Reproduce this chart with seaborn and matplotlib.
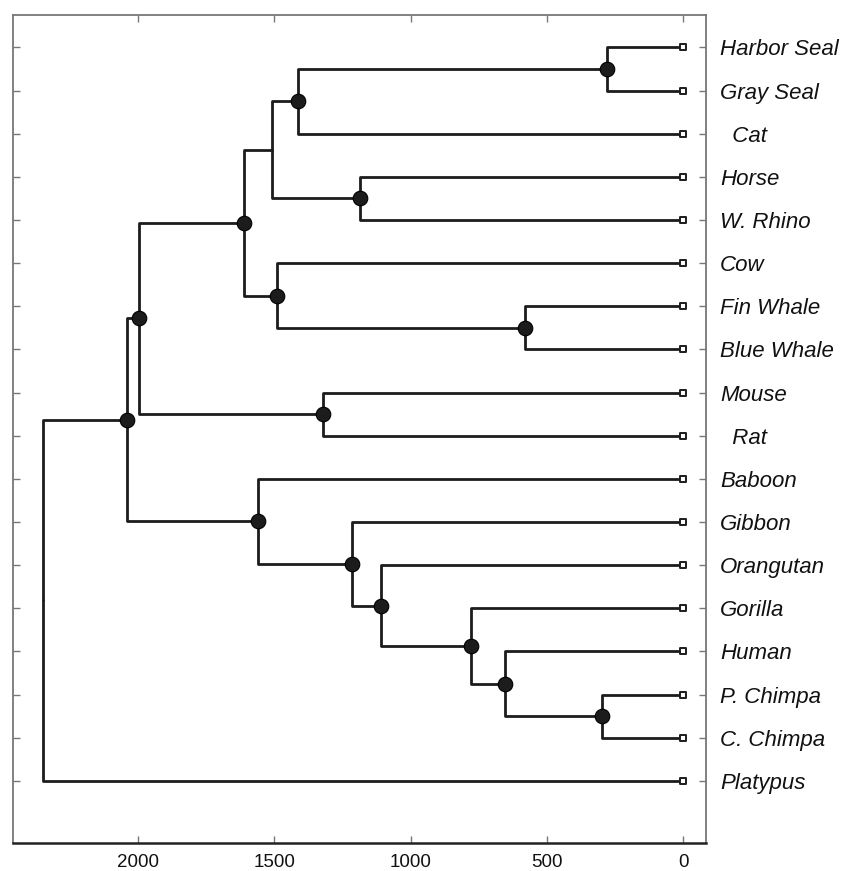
import matplotlib
matplotlib.use("Agg")
import matplotlib.pyplot as plt
import pandas as pd
import seaborn as sns

# Leaves, top to bottom
leaf_names = [
    "Harbor Seal", "Gray Seal", "  Cat", "Horse", "W. Rhino", "Cow",
    "Fin Whale", "Blue Whale", "Mouse", "  Rat", "Baboon", "Gibbon",
    "Orangutan", "Gorilla", "Human", "P. Chimpa", "C. Chimpa", "Platypus",
]

# Internal nodes in merge order: children and divergence height
node_names = [
    "seals", "carnivora", "perissodactyla", "fereungulata", "whales",
    "cetartiodactyla", "laurasiatheria", "glires", "boreoeutheria",
    "chimps", "homininae_a", "homininae", "hominidae", "hominoidea",
    "catarrhini", "eutheria", "mammalia",
]
left_child = [
    "Harbor Seal", "seals", "Horse", "carnivora", "Fin Whale",
    "Cow", "fereungulata", "Mouse", "laurasiatheria",
    "P. Chimpa", "Human", "Gorilla", "Orangutan", "Gibbon",
    "Baboon", "boreoeutheria", "eutheria",
]
right_child = [
    "Gray Seal", "  Cat", "W. Rhino", "perissodactyla", "Blue Whale",
    "whales", "cetartiodactyla", "  Rat", "glires",
    "C. Chimpa", "chimps", "homininae_a", "homininae", "hominidae",
    "hominoidea", "catarrhini", "Platypus",
]
node_heights = [
    279, 1413, 1185, 1508, 580,
    1490, 1611, 1321, 1996,
    297, 653, 778, 1108, 1215,
    1560, 2040, 2349,
]
node_marked = [
    True, True, True, False, True,
    True, True, True, True,
    True, True, True, True, True,
    True, True, False,
]
axis_ticks = [2000, 1500, 1000, 500, 0]

sns.set_style("ticks")
plt.rcParams["font.family"] = ["Liberation Sans", "DejaVu Sans"]

# Lay out the tree: leaves on integer rows, parents midway between children
pos = {name: (0.0, float(i + 1)) for i, name in enumerate(leaf_names)}
seg_rows = []
node_rows = []
for name, a, b, h, mark in zip(node_names, left_child, right_child,
                               node_heights, node_marked):
    y_node = (pos[a][1] + pos[b][1]) / 2.0
    for child in (a, b):
        cx, cy = pos[child]
        seg = f"{name}/{child}"
        seg_rows.append(dict(seg=seg, x=cx, y=cy))
        seg_rows.append(dict(seg=seg, x=h, y=cy))
        seg_rows.append(dict(seg=seg, x=h, y=y_node))
    pos[name] = (float(h), y_node)
    node_rows.append(dict(x=float(h), y=y_node, marked=mark))

segs = pd.DataFrame(seg_rows)
nodes = pd.DataFrame(node_rows)
leaves = pd.DataFrame(dict(x=[pos[n][0] for n in leaf_names],
                           y=[pos[n][1] for n in leaf_names]))

fig = plt.figure(figsize=(8.43, 8.71), dpi=100)
ax = fig.add_axes([13 / 843, 28 / 871, 693 / 843, 828 / 871])

ink = "#1c1c1c"
sns.lineplot(data=segs, x="x", y="y", units="seg", estimator=None, sort=False,
             color=ink, linewidth=2.0, ax=ax, legend=False, zorder=2)
sns.scatterplot(data=nodes[nodes["marked"]], x="x", y="y", marker="o", s=110,
                color=ink, edgecolor="#000000", linewidth=0.8, ax=ax,
                legend=False, zorder=3)
sns.scatterplot(data=leaves, x="x", y="y", marker="s", s=24, color="white",
                edgecolor=ink, linewidth=1.4, ax=ax, legend=False, zorder=4)

ax.set_xlim(2459, -84)
ax.set_ylim(19.44, 0.247)
ax.set_xlabel("")
ax.set_ylabel("")

ax.set_xticks(axis_ticks)
ax.set_xticklabels([str(t) for t in axis_ticks])
ax.tick_params(axis="x", direction="in", top=True, bottom=True, length=5,
               width=1, color="#777777", labelsize=13.5, pad=8,
               labelcolor="#111111")

ax.set_yticks([pos[n][1] for n in leaf_names])
ax.set_yticklabels(leaf_names, fontsize=16, fontstyle="italic", color="#111111")
ax.tick_params(axis="y", direction="in", left=True, right=True,
               labelleft=False, labelright=True, length=5, width=1,
               color="#777777", pad=10)

for side in ("left", "top", "right"):
    ax.spines[side].set_color("#777777")
    ax.spines[side].set_linewidth(1.3)
ax.spines["bottom"].set_color("#222222")
ax.spines["bottom"].set_linewidth(1.8)

fig.savefig("out.png", dpi=100, facecolor="white")
